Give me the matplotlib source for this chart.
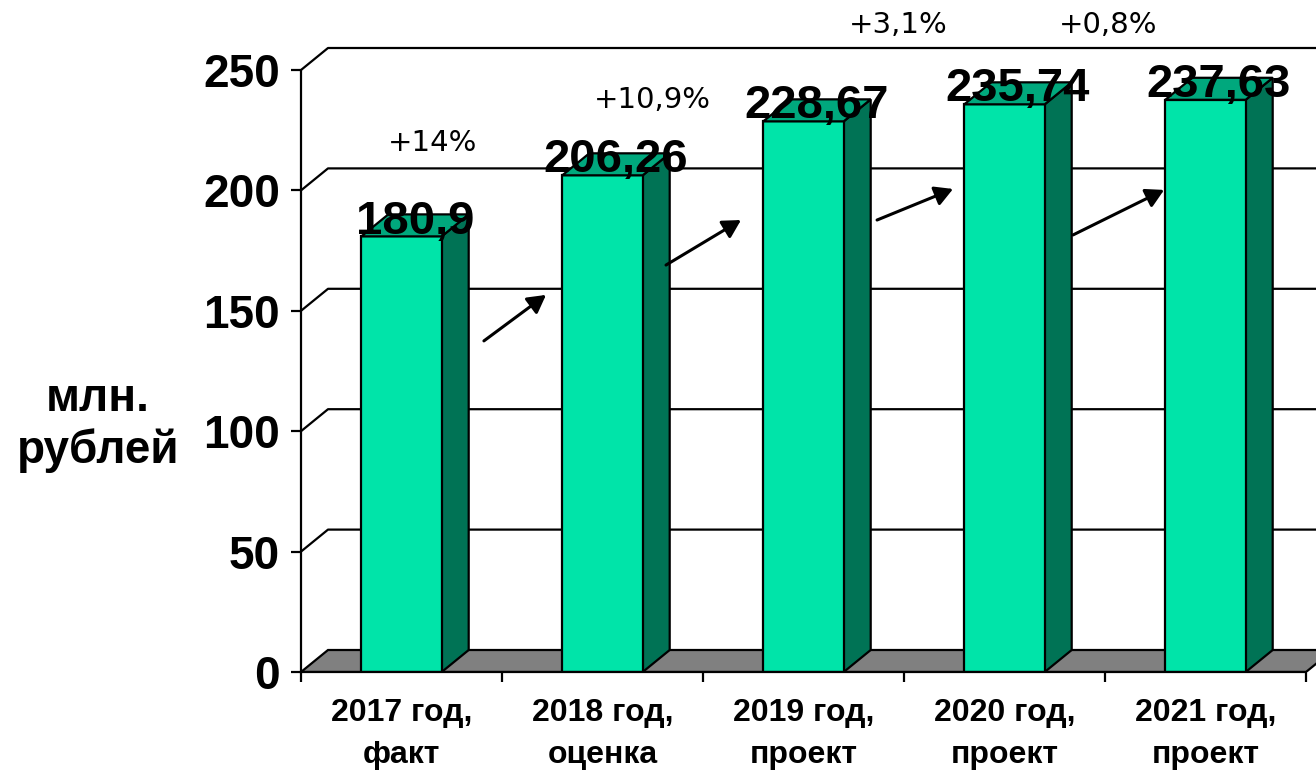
import matplotlib
matplotlib.use("Agg")
import matplotlib.pyplot as plt
from matplotlib.patches import Polygon

categories = ["2017 год,\nфакт", "2018 год,\nоценка", "2019 год,\nпроект",
              "2020 год,\nпроект", "2021 год,\nпроект"]
values = [180.9, 206.26, 228.67, 235.74, 237.63]
value_labels = ["180,9", "206,26", "228,67", "235,74", "237,63"]
yticks = [0, 50, 100, 150, 200, 250]

growth_labels = ["+14%", "+10,9%", "+3,1%", "+0,8%"]
growth_xy = [(0.657, 219.7), (1.746, 237.5), (2.970, 268.7), (4.015, 268.7)]
arrows = [((0.910, 137.5), (1.219, 156.6)),
          ((1.816, 169.0), (2.189, 187.7)),
          ((2.866, 187.7), (3.244, 200.6)),
          ((3.841, 181.5), (4.294, 200.2))]

front_c = "#00e4a9"
side_c = "#007355"
top_c = "#00a87d"
floor_c = "#808080"

# pseudo-3d depth offset in data units
dx, dy = 27 / 201, 22 / 2.408
hw = 0.2
lw = 1.6
bold = "Liberation Sans"

fig = plt.figure(figsize=(13.16, 7.71), dpi=100)
ax = fig.add_axes([301 / 1316, (771 - 672) / 771, 1015 / 1316, 672 / 771])
ax.set_xlim(0, 1015 / 201)
ax.set_ylim(0, 672 / 2.408)

n = len(values)

# back wall grid lines
for v in yticks[1:]:
    ax.plot([0, dx, n + dx], [v, v + dy, v + dy], color="black", lw=lw, zorder=1,
            solid_capstyle="butt")

# floor
ax.add_patch(Polygon([(0, 0), (n, 0), (n + dx, dy), (dx, dy)], closed=True,
                     facecolor=floor_c, edgecolor="black", lw=lw, zorder=2))

# bars
for i, v in enumerate(values):
    c = i + 0.5
    x0, x1 = c - hw, c + hw
    ax.add_patch(Polygon([(x1, 0), (x1 + dx, dy), (x1 + dx, v + dy), (x1, v)],
                         facecolor=side_c, edgecolor="black", lw=lw, zorder=3))
    ax.add_patch(Polygon([(x0, 0), (x1, 0), (x1, v), (x0, v)],
                         facecolor=front_c, edgecolor="black", lw=lw, zorder=3))
    ax.add_patch(Polygon([(x0, v), (x1, v), (x1 + dx, v + dy), (x0 + dx, v + dy)],
                         facecolor=top_c, edgecolor="black", lw=lw, zorder=3))
    ax.text(c + dx / 2, v + 1.2, value_labels[i], ha="center", va="baseline",
            fontsize=34, fontweight="bold", family=bold, zorder=5)

for (s, e) in arrows:
    ax.annotate("", xy=e, xytext=s,
                arrowprops=dict(arrowstyle="-|>,head_length=0.45,head_width=0.25",
                                color="black", lw=2.2,
                                mutation_scale=24, shrinkA=0, shrinkB=0),
                zorder=4)

for lab, (x, y) in zip(growth_labels, growth_xy):
    ax.text(x, y, lab, ha="center", va="center", fontsize=21,
            family="DejaVu Sans", zorder=5)

# axes styling
for s in ["top", "right"]:
    ax.spines[s].set_visible(False)
ax.spines["left"].set_bounds(0, 250)
ax.spines["bottom"].set_bounds(0, n)
for s in ["left", "bottom"]:
    ax.spines[s].set_linewidth(lw)
    ax.spines[s].set_zorder(6)

ax.set_yticks(yticks)
ax.set_yticklabels([str(t) for t in yticks])
ax.tick_params(axis="y", direction="out", length=7, width=lw, pad=8,
               labelsize=33)
ax.set_xticks(range(n + 1))
ax.set_xticklabels([""] * (n + 1))
ax.set_xticks([i + 0.5 for i in range(n)], minor=True)
ax.set_xticklabels(categories, minor=True, fontsize=23, fontweight="bold",
                   family=bold, linespacing=1.5)
ax.tick_params(axis="x", which="major", direction="out", length=7, width=lw)
ax.tick_params(axis="x", which="minor", length=0, pad=19)
for t in ax.get_yticklabels():
    t.set_fontweight("bold")
    t.set_family(bold)

fig.text(98 / 1316, 1 - 425 / 771, "млн.\nрублей", ha="center", va="center",
         fontsize=33, fontweight="bold", family=bold, linespacing=1.2)

fig.savefig("out.png", dpi=100)
